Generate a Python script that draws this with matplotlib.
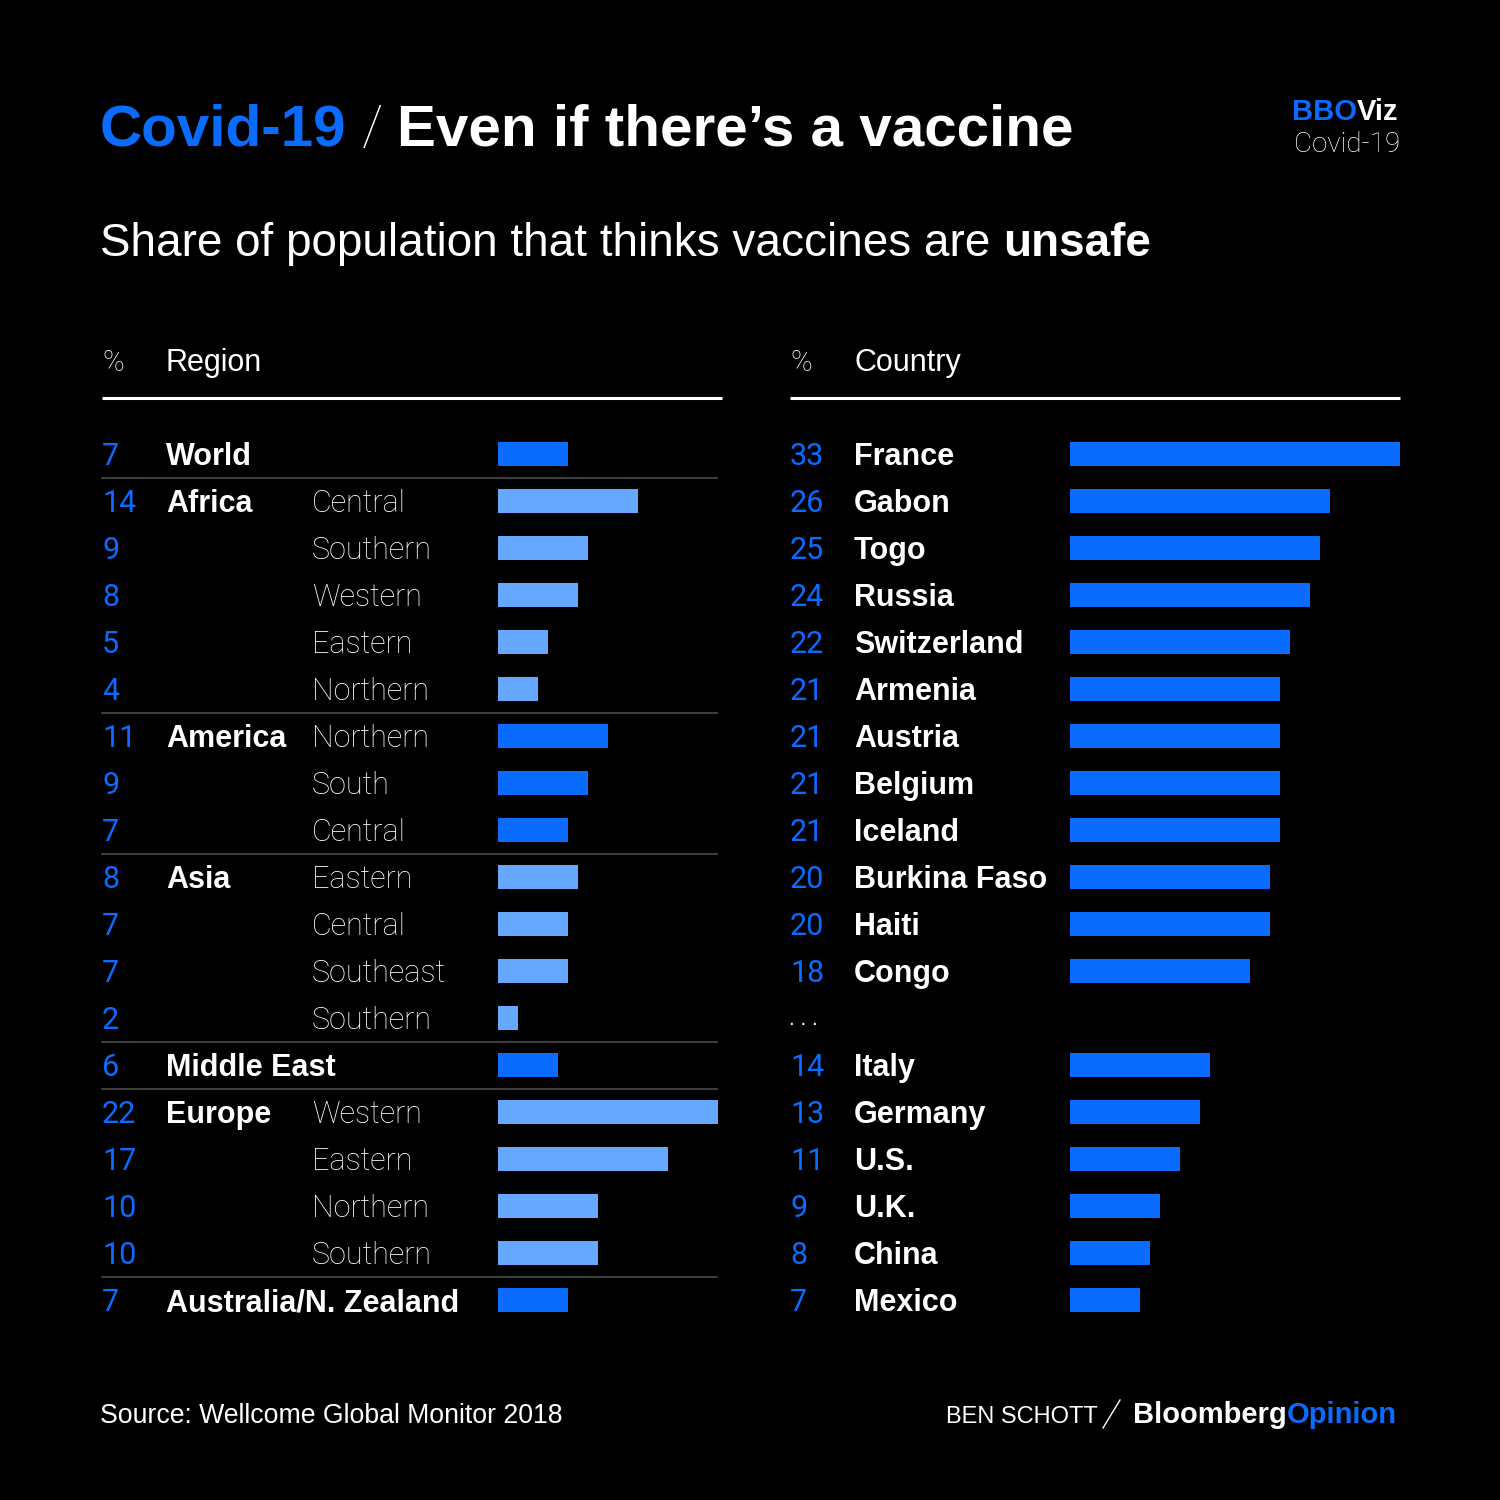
import numpy as np
import matplotlib.pyplot as plt

# --- data ---
region_groups = ["World", "Africa", "", "", "", "", "America", "", "", "Asia", "", "", "",
                 "Middle East", "Europe", "", "", "", "Australia/N. Zealand"]
subregions = ["", "Central", "Southern", "Western", "Eastern", "Northern", "Northern", "South",
              "Central", "Eastern", "Central", "Southeast", "Southern", "", "Western", "Eastern",
              "Northern", "Southern", ""]
region_values = [7, 14, 9, 8, 5, 4, 11, 9, 7, 8, 7, 7, 2, 6, 22, 17, 10, 10, 7]
light_groups = {"Africa", "Asia", "Europe"}

countries = ["France", "Gabon", "Togo", "Russia", "Switzerland", "Armenia", "Austria", "Belgium",
             "Iceland", "Burkina Faso", "Haiti", "Congo", None, "Italy", "Germany", "U.S.", "U.K.",
             "China", "Mexico"]
country_values = [33, 26, 25, 24, 22, 21, 21, 21, 21, 20, 20, 18, None, 14, 13, 11, 9, 8, 7]

BG = "black"
BLUE = "#0a6cff"
LBLUE = "#66a8ff"
BOLD = "Liberation Sans"
LIGHT = "Roboto"

fig = plt.figure(figsize=(15, 15), dpi=100, facecolor=BG)

# overlay axes in pixel coordinates for text and rules
ax = fig.add_axes([0, 0, 1, 1])
ax.set_xlim(0, 1500)
ax.set_ylim(1500, 0)
ax.axis("off")

row0, step = 454, 47
n = len(region_values)


def row_y(i):
    return row0 + step * i


# group of each row (carry forward blank names)
groups = []
cur = ""
for g in region_groups:
    if g:
        cur = g
    groups.append(cur)

# --- bar axes ---
def bar_axes(x0, width_px, vmax):
    bottom = 1 - (row_y(n - 1) + step / 2) / 1500
    height = (step * n) / 1500
    b = fig.add_axes([x0 / 1500, bottom, width_px / 1500, height])
    b.set_xlim(0, vmax)
    b.set_ylim(n - 0.5, -0.5)
    b.axis("off")
    b.patch.set_alpha(0)
    return b


axl = bar_axes(498, 220, 22)
colors = [LBLUE if g in light_groups else BLUE for g in groups]
axl.barh(np.arange(n), region_values, height=24 / 47, color=colors)

axr = bar_axes(1070, 330, 33)
idx = [i for i, v in enumerate(country_values) if v is not None]
axr.barh(idx, [country_values[i] for i in idx], height=24 / 47, color=BLUE)

# --- titles ---
ax.text(100, 145, "Covid-19", color=BLUE, fontsize=42, fontweight="bold", family=BOLD)
ax.text(362, 145, "/", color="white", fontsize=40, fontweight="light", family=LIGHT)
ax.text(397, 145, "Even if there\u2019s a vaccine", color="white", fontsize=42,
        fontweight="bold", family=BOLD)

ax.text(1357, 120, "BBO", color=BLUE, fontsize=21, fontweight="bold", family=BOLD, ha="right")
ax.text(1357, 120, "Viz", color="white", fontsize=21, fontweight="bold", family=BOLD)
ax.text(1400, 152, "Covid-19", color="white", fontsize=20, fontweight="light", family=LIGHT,
        ha="right")

sub = ax.text(100, 256, "Share of population that thinks vaccines are", color="white",
              fontsize=33, family=BOLD)
ax.annotate("unsafe", xy=(1, 0), xycoords=sub, xytext=(9, 0), textcoords="offset points",
            va="bottom", color="white", fontsize=33, fontweight="bold", family=BOLD)

# --- column headers ---
for x_pct, x_lab, lab, x_end in [(102, 166, "Region", 722), (790, 854, "Country", 1400)]:
    ax.text(x_pct, 371, "%", color="white", fontsize=21, fontweight="light", family=LIGHT)
    ax.text(x_lab, 371, lab, color="white", fontsize=22, family=BOLD)
    ax.plot([x_pct, x_end], [398, 398], color="white", lw=2.2, solid_capstyle="butt")

# --- left table ---
for i in range(n):
    y = row_y(i) + 11
    ax.text(102, y, str(region_values[i]), color=BLUE, fontsize=22, family=LIGHT)
    if region_groups[i]:
        ax.text(166, y, region_groups[i], color="white", fontsize=22, fontweight="bold",
                family=BOLD)
    if subregions[i]:
        ax.text(312, y, subregions[i], color="white", fontsize=22, fontweight="light",
                family=LIGHT)
    if i > 0 and region_groups[i]:
        ys = row_y(i) - step / 2
        ax.plot([102, 717], [ys, ys], color="#4a4a4a", lw=1.2)

# --- right table ---
for i, (c, v) in enumerate(zip(countries, country_values)):
    y = row_y(i) + 11
    if c is None:
        ax.text(789, y - 4, ". . .", color="white", fontsize=15, family=BOLD)
        continue
    ax.text(790, y, str(v), color=BLUE, fontsize=22, family=LIGHT)
    ax.text(854, y, c, color="white", fontsize=22, fontweight="bold", family=BOLD)

# --- footer ---
ax.text(100, 1423, "Source: Wellcome Global Monitor 2018", color="white", fontsize=19.2,
        family=BOLD)
ax.text(1098, 1423, "BEN SCHOTT", color="white", fontsize=17, family=BOLD, ha="right")
ax.plot([1103, 1120], [1428, 1400], color="white", lw=1)
ax.text(1287, 1423, "Bloomberg", color="white", fontsize=21, fontweight="bold", family=BOLD,
        ha="right")
ax.text(1287, 1423, "Opinion", color=BLUE, fontsize=21, fontweight="bold", family=BOLD)

fig.savefig("out.png", dpi=100, facecolor=BG)
